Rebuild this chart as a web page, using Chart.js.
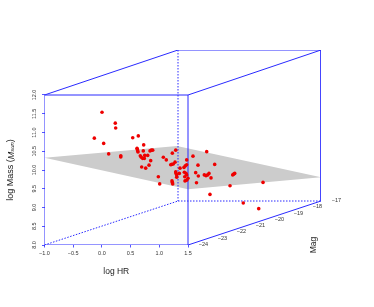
<!DOCTYPE html>
<html><head><meta charset="utf-8">
<style>html,body{margin:0;padding:0;background:#fff}canvas{display:block}</style>
<script src="https://cdn.jsdelivr.net/npm/chart.js@4"></script>
</head><body><canvas id="c" width="374" height="307"></canvas>
<script>
const hrTicks=[-1,-0.5,0,0.5,1,1.5];
const massTicks=[8,8.5,9,9.5,10,10.5,11,11.5,12];
const magTicks=[-24,-23,-22,-21,-20,-19,-18,-17];
const pointHR=[0.002,0.233,0.240,-0.132,0.031,0.537,0.634,0.728,0.118,0.329,0.329,0.612,0.617,0.624,0.629,0.721,0.838,0.861,0.885,0.798,0.746,0.669,0.686,0.711,0.739,0.850,0.821,0.763,0.693,1.070,1.122,1.227,1.286,1.199,1.216,1.244,1.274,0.983,1.007,1.221,1.227,1.233,1.286,1.291,1.303,1.303,1.349,1.477,1.587,1.826,1.674,1.965,1.477,1.453,1.430,1.361,1.436,1.465,1.477,1.443,1.500,1.634,1.680,1.814,1.843,1.866,1.901,1.784,2.314,2.296,2.279,2.807,2.232,1.883,2.463,2.732,1.477,1.448,1.648];
const pointMass=[11.54,11.25,11.12,10.85,10.71,10.86,10.91,10.67,10.43,10.38,10.35,10.58,10.55,10.51,10.48,10.51,10.51,10.53,10.53,10.39,10.39,10.38,10.34,10.31,10.31,10.25,10.13,10.05,10.08,10.34,10.27,10.45,10.53,10.14,10.15,10.16,10.21,9.82,9.63,9.71,9.67,9.63,9.95,9.91,9.87,9.81,9.91,10.27,10.37,10.49,10.13,10.15,10.14,10.11,10.07,10.05,9.94,9.91,9.87,9.82,9.78,9.93,9.84,9.85,9.87,9.91,9.79,9.87,9.91,9.89,9.87,9.67,9.58,9.35,9.12,8.97,9.73,9.71,9.66];
const planeHR=[-1,1.308,3.817,1.5];
const planeMass=[10.33,10.64,9.81,9.49];
const HR0=-1,HR1=1.5,HRb=1.326,HRe=3.817;
const M0=8,M1=12,Mb=9.173,Me=13.2;
const solidEdges=[[[HR0,M1],[HR1,M1]],[[HR0,M0],[HR0,M1]],[[HR1,M0],[HR1,M1]],[[HR0,M0],[HR1,M0]],[[HR0,M1],[HRb,Me]],[[HRb,Me],[HRe,Me]],[[HR1,M1],[HRe,Me]],[[HRe,Me],[HRe,Mb]],[[HR1,M0],[HRe,Mb]]];
const dashedEdges=[[[HR0,M0],[HRb,Mb]],[[HRb,Mb],[HRe,Mb]],[[HRb,Me],[HRb,Mb]]];
const toPts=a=>a.map(p=>({x:p[0],y:p[1]}));
const minus=s=>s.replace('-','\u2212');
const FONT='"Liberation Sans",Arial,sans-serif';
const BLUE='#2a2aff';
const datasets=[];
datasets.push({data:pointHR.map((v,i)=>({x:v,y:pointMass[i]})),backgroundColor:'#ee0000',borderColor:'#ee0000',pointRadius:1.8,borderWidth:0,showLine:false,order:0});
solidEdges.forEach(e=>datasets.push({data:toPts(e),showLine:true,borderColor:BLUE,borderWidth:1,pointRadius:0,fill:false,order:1}));
dashedEdges.forEach(e=>datasets.push({data:toPts(e),showLine:true,borderColor:BLUE,borderWidth:1,borderDash:[1.5,1.5],pointRadius:0,fill:false,order:1}));
datasets.push({data:planeHR.map((v,i)=>({x:v,y:planeMass[i]})),showLine:true,borderWidth:0,borderColor:'#cccccc',backgroundColor:'#cccccc',pointRadius:0,fill:'shape',tension:0,order:2});
const textPlugin={id:'axisText',afterDraw(ch){
  const c=ch.ctx,X=ch.scales.x,Y=ch.scales.y;
  c.save();c.fillStyle='#222';c.textBaseline='middle';c.textAlign='center';
  c.font='8.5px '+FONT;
  c.fillText('log HR',X.getPixelForValue(0.25),272);
  c.save();c.translate(314,Y.getPixelForValue(8));c.rotate(-Math.PI/2);c.fillText('Mag',0,0);c.restore();
  c.save();c.translate(11,Y.getPixelForValue(10));c.rotate(-Math.PI/2);c.textAlign='left';
  const parts=[['log Mass (','9px ',0],['M','italic 9px ',0],['sun','italic 6px ',1.5],[')','9px ',0]];
  let w=0;parts.forEach(p=>{c.font=p[1]+FONT;w+=c.measureText(p[0]).width});
  let x=-w/2;parts.forEach(p=>{c.font=p[1]+FONT;c.fillText(p[0],x,p[2]);x+=c.measureText(p[0]).width});
  c.restore();
  c.font='5.5px '+FONT;c.fillStyle='#333';
  magTicks.forEach(m=>{
    const t=(m+24)/7;
    const px=X.getPixelForValue(HR1+t*(HRe-HR1)),py=Y.getPixelForValue(M0+t*(Mb-M0));
    c.fillText(minus(String(m)),px+15.5,py-0.5);
  });
  c.restore();
}};
new Chart(document.getElementById('c'),{type:'scatter',data:{datasets},plugins:[textPlugin],options:{
  responsive:false,animation:false,devicePixelRatio:1,
  layout:{padding:{left:24.5,right:374-321,top:50,bottom:42}},
  plugins:{legend:{display:false},tooltip:{enabled:false}},
  scales:{
    x:{type:'linear',min:HR0,max:HRe,
      afterBuildTicks:s=>{s.ticks=hrTicks.map(v=>({value:v}))},
      afterFit:s=>{s.height=20},
      border:{display:false},
      grid:{drawOnChartArea:false,drawTicks:true,tickLength:2.5,color:BLUE,tickWidth:0.8},
      ticks:{autoSkip:false,maxRotation:0,minRotation:0,padding:3,color:'#333',font:{size:5.5,family:FONT},callback:v=>minus(v.toFixed(1))}},
    y:{type:'linear',min:M0,max:Me,
      afterBuildTicks:s=>{s.ticks=massTicks.map(v=>({value:v}))},
      afterFit:s=>{s.width=20},
      border:{display:false},
      grid:{drawOnChartArea:false,drawTicks:true,tickLength:2.5,color:BLUE,tickWidth:0.8},
      ticks:{autoSkip:false,maxRotation:90,minRotation:90,crossAlign:'center',padding:2.5,color:'#333',font:{size:5.5,family:FONT},callback:v=>v.toFixed(1)}}
  }
}});
</script></body></html>
